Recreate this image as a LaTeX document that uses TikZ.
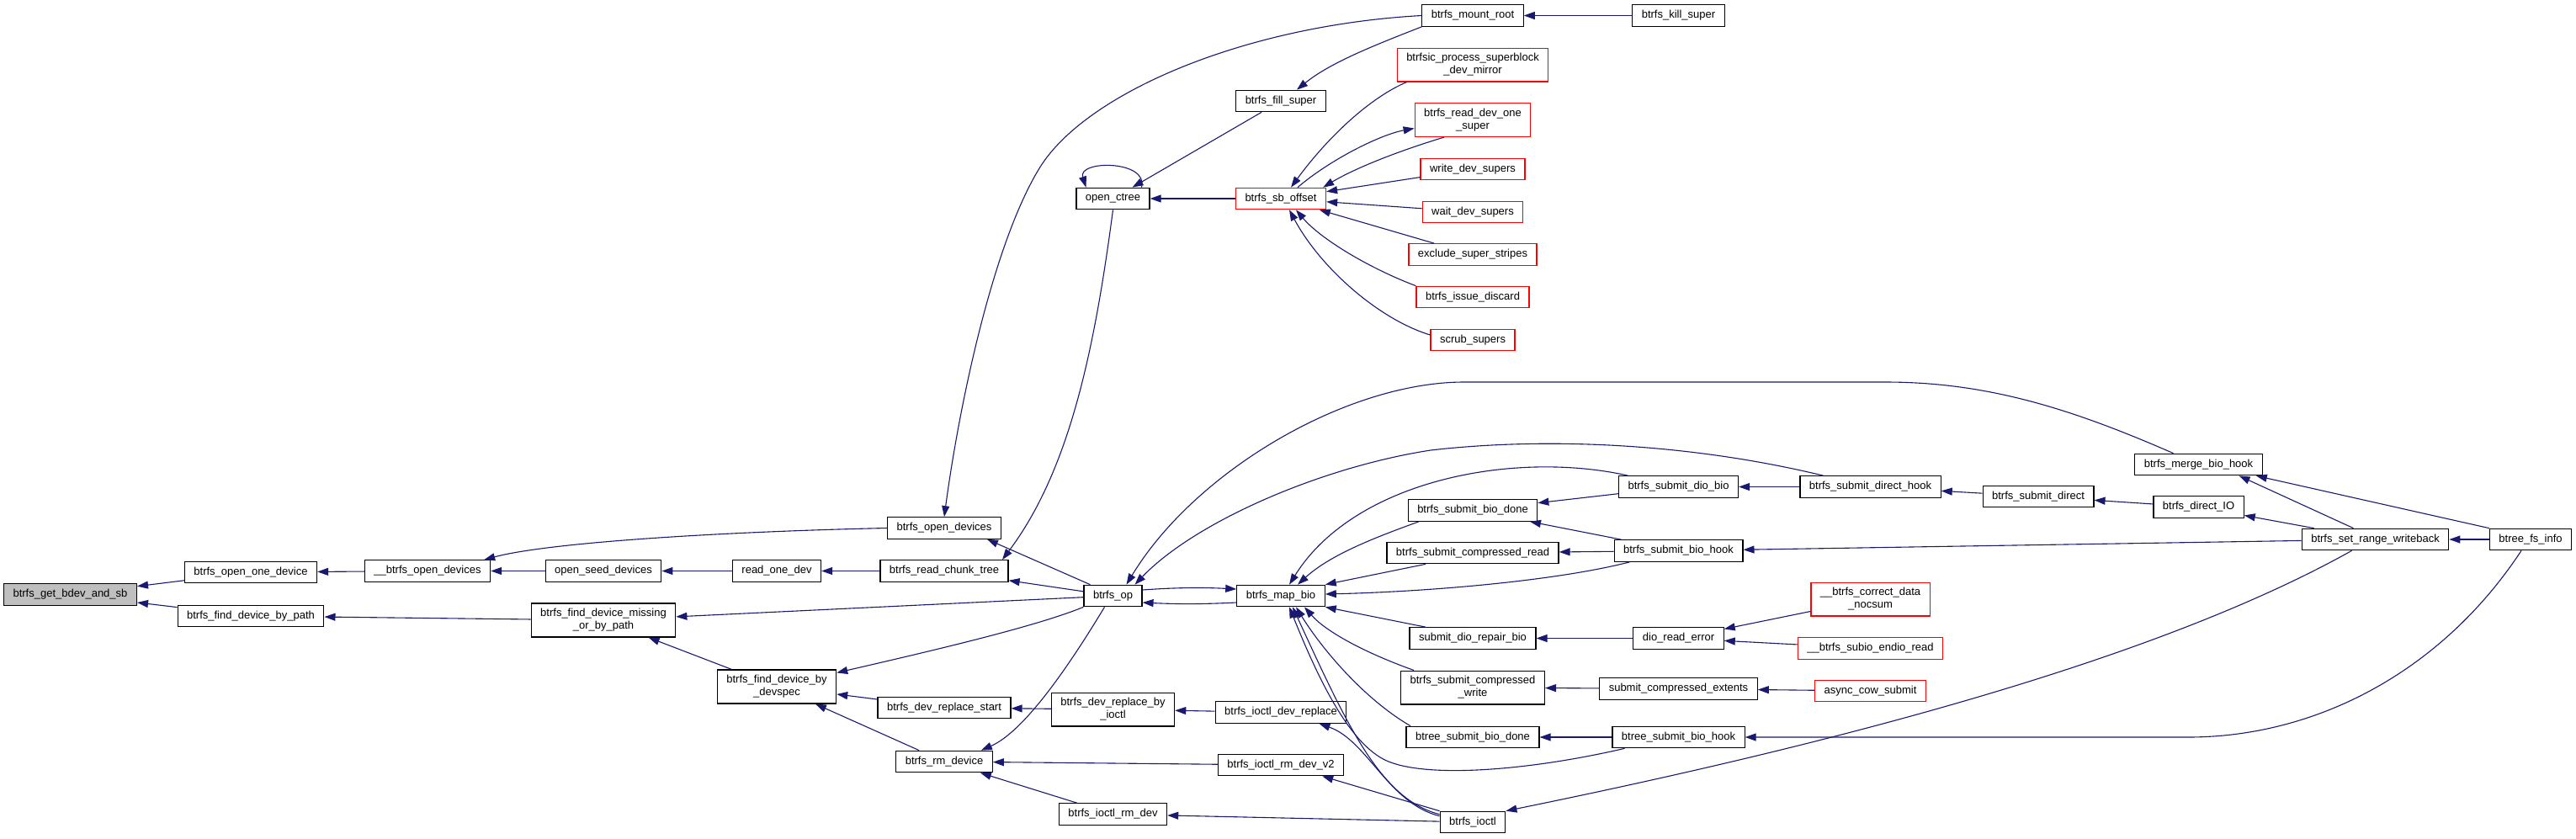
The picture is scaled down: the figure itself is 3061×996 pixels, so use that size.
\documentclass[tikz,border=0pt]{standalone}
\usepackage{fontspec}
\setmainfont{Liberation Sans}
\usepackage{tikz}
\usetikzlibrary{arrows.meta}
\definecolor{edgeblue}{RGB}{25,25,112}
\definecolor{linkred}{RGB}{255,0,0}
\definecolor{rootgray}{RGB}{191,191,191}

\begin{document}
\begin{tikzpicture}[x=0.5pt, y=-0.5pt,
  fn/.style={draw=black, fill=white, line width=0.6pt, inner xsep=5.5pt, inner ysep=3.2pt,
             minimum height=12.75pt, align=center, font=\fontsize{6.5pt}{7.5pt}\selectfont},
  fnred/.style={fn, draw=linkred},
  fnroot/.style={fn, fill=rootgray},
  call/.style={draw=edgeblue, line width=0.55pt, -{Triangle[length=6.5pt,width=4.5pt]}}]

%---------------------------------------
% Column positions (one per rank)
%---------------------------------------
\def\colA{83.5}   \def\colB{298}    \def\colC{508}    \def\colD{717}
\def\colE{923}    \def\colF{1122}   \def\colG{1322.5} \def\colH{1522}
\def\colI{1750}   \def\colJ{1994.5} \def\colK{2222.5} \def\colL{2422}
\def\colM{2612.5} \def\colN{2822.5} \def\colO{3007}

\useasboundingbox (0,0) rectangle (3061,996);

%====================================================
% Nodes
%====================================================
\node[fnroot] (getbdev)     at (\colA,706.5) {btrfs\_get\_bdev\_and\_sb};

\node[fn] (openone)         at (\colB,680)   {btrfs\_open\_one\_device};
\node[fn] (findpath)        at (\colB,732)   {btrfs\_find\_device\_by\_path};

\node[fn] (uopendev)        at (\colC,678.5) {\_\_btrfs\_open\_devices};

\node[fn] (openseed)        at (\colD,678.5) {open\_seed\_devices};
\node[fn] (findmissing)     at (\colD,737)   {btrfs\_find\_device\_missing\\\_or\_by\_path};

\node[fn] (readonedev)      at (\colE,678.5) {read\_one\_dev};
\node[fn] (devspec)         at (\colE,816)   {btrfs\_find\_device\_by\\\_devspec};

\node[fn] (opendevs)        at (\colF,627.5) {btrfs\_open\_devices};
\node[fn] (readchunk)       at (\colF,678.5) {btrfs\_read\_chunk\_tree};
\node[fn] (replstart)       at (\colF,841)   {btrfs\_dev\_replace\_start};
\node[fn] (rmdevice)        at (\colF,905)   {btrfs\_rm\_device};

\node[fn] (openctree)       at (\colG,236)   {open\_ctree};
\node[fn] (btrfsop)         at (\colG,708)   {btrfs\_op};
\node[fn] (replioctl)       at (\colG,843)   {btrfs\_dev\_replace\_by\\\_ioctl};
\node[fn] (ioctlrmdev)      at (\colG,967.5) {btrfs\_ioctl\_rm\_dev};

\node[fn] (fillsuper)       at (\colH,120)   {btrfs\_fill\_super};
\node[fnred] (sboffset)     at (\colH,236)   {btrfs\_sb\_offset};
\node[fn] (mapbio)          at (\colH,708)   {btrfs\_map\_bio};
\node[fn] (ioctldevrepl)    at (\colH,846.5) {btrfs\_ioctl\_dev\_replace};
\node[fn] (ioctlrmdevv2)    at (\colH,909)   {btrfs\_ioctl\_rm\_dev\_v2};

\node[fn] (mountroot)       at (\colI,18.5)  {btrfs\_mount\_root};
\node[fnred] (btrfsic)      at (\colI,77)    {btrfsic\_process\_superblock\\\_dev\_mirror};
\node[fnred] (readdevone)   at (\colI,142.5) {btrfs\_read\_dev\_one\\\_super};
\node[fnred] (writedev)     at (\colI,201)   {write\_dev\_supers};
\node[fnred] (waitdev)      at (\colI,252)   {wait\_dev\_supers};
\node[fnred] (exclude)      at (\colI,302.5) {exclude\_super\_stripes};
\node[fnred] (issuediscard) at (\colI,353)   {btrfs\_issue\_discard};
\node[fnred] (scrub)        at (\colI,404)   {scrub\_supers};
\node[fn] (submitbiodone)   at (\colI,606.5) {btrfs\_submit\_bio\_done};
\node[fn] (comprread)       at (\colI,657)   {btrfs\_submit\_compressed\_read};
\node[fn] (diorepair)       at (\colI,758.5) {submit\_dio\_repair\_bio};
\node[fn] (comprwrite)      at (\colI,817)   {btrfs\_submit\_compressed\\\_write};
\node[fn] (btreebiodone)    at (\colI,876)   {btree\_submit\_bio\_done};
\node[fn] (btrfsioctl)      at (\colI,977)   {btrfs\_ioctl};

\node[fn] (killsuper)       at (\colJ,18.5)  {btrfs\_kill\_super};
\node[fn] (diobio)          at (\colJ,578.5) {btrfs\_submit\_dio\_bio};
\node[fn] (submitbiohook)   at (\colJ,654.5) {btrfs\_submit\_bio\_hook};
\node[fn] (dioreaderr)      at (\colJ,758.5) {dio\_read\_error};
\node[fn] (comprext)        at (\colJ,818.5) {submit\_compressed\_extents};
\node[fn] (btreebiohook)    at (\colJ,876)   {btree\_submit\_bio\_hook};

\node[fn] (directhook)      at (\colK,578.5) {btrfs\_submit\_direct\_hook};
\node[fnred] (correctdata)  at (\colK,712)   {\_\_btrfs\_correct\_data\\\_nocsum};
\node[fnred] (subioendio)   at (\colK,770.5) {\_\_btrfs\_subio\_endio\_read};
\node[fnred] (asynccow)     at (\colK,821)   {async\_cow\_submit};

\node[fn] (submitdirect)    at (\colL,590)   {btrfs\_submit\_direct};
\node[fn] (mergebio)        at (\colM,552)   {btrfs\_merge\_bio\_hook};
\node[fn] (directio)        at (\colM,602.5) {btrfs\_direct\_IO};
\node[fn] (setrange)        at (\colN,641)   {btrfs\_set\_range\_writeback};
\node[fn] (btreefsinfo)     at (\colO,641)   {btree\_fs\_info};

%====================================================
% Calls (arrow at the callee)
%====================================================
% ---- left part ----
\draw[call] (openone) -- (getbdev);
\draw[call] (findpath) -- (getbdev);
\draw[call] (uopendev) -- (openone);
\draw[call] (openseed) -- (uopendev);
\draw[call] (opendevs.west) .. controls (850,632) and (650,645) .. ([xshift=-4pt]uopendev.north east);
\draw[call] (findmissing) -- (findpath);
\draw[call] (readonedev) -- (openseed);
\draw[call] (readchunk) -- (readonedev);
\draw[call] (devspec) -- (findmissing);

% ---- super block ----
\draw[call] (mountroot.west) .. controls (1480,30) and (1290,110) .. (1235,200)
            .. controls (1180,290) and (1140,480) .. (opendevs.north);
\draw[call] (mountroot.south west) .. controls (1630,55) and (1580,75) .. ([xshift=9.5pt]fillsuper.north);
\draw[call] (killsuper) -- (mountroot);
\draw[call] (fillsuper) -- (openctree);
\draw[call] ([xshift=17pt]openctree.north) .. controls (1365,190) and (1280,190) .. ([xshift=-16pt]openctree.north);
\draw[call] (sboffset) -- (openctree);
\draw[call] ([xshift=6pt]btrfsic.south west) .. controls (1630,115) and (1580,160) .. ([xshift=6pt]sboffset.north);
\draw[call] ([xshift=10pt]sboffset.north) .. controls (1580,190) and (1640,160) .. ([yshift=-5pt]readdevone.west);
\draw[call] ([xshift=-17pt]readdevone.south) .. controls (1660,180) and (1610,200) .. ([xshift=-2pt]sboffset.north east);
\draw[call] (writedev) -- (sboffset);
\draw[call] (waitdev) -- (sboffset);
\draw[call] (exclude) -- (sboffset);
\draw[call] (issuediscard.north west) .. controls (1630,320) and (1570,285) .. ([xshift=9pt]sboffset.south);
\draw[call] ([yshift=3pt]scrub.west) .. controls (1640,380) and (1570,320) .. ([xshift=5pt]sboffset.south);
\draw[call] (openctree.south) .. controls (1300,420) and (1270,560) .. ([xshift=34.5pt]readchunk.north);

% ---- btrfs_op ----
\draw[call] ([xshift=4pt]btrfsop.north west) -- ([xshift=-8.5pt]opendevs.south east);
\draw[call] (btrfsop) -- (readchunk);
\draw[call] (btrfsop) -- (findmissing);
\draw[call] (btrfsop.south west) .. controls (1230,745) and (1100,775) .. ([yshift=-2pt]devspec.north east);
\draw[call] ([xshift=-5pt]btrfsop.south) .. controls (1265,800) and (1215,870) .. ([xshift=-7pt]rmdevice.north east);
\draw[call] ([yshift=3.5pt]btrfsop.east) .. controls (1400,698) and (1430,698) .. ([yshift=4pt]mapbio.west);
\draw[call] ([yshift=-4pt]mapbio.west) .. controls (1430,718) and (1400,718) .. ([yshift=-4pt]btrfsop.east);

% ---- device replace / remove ----
\draw[call] (replstart) -- (devspec);
\draw[call] (rmdevice) -- (devspec);
\draw[call] (replioctl) -- (replstart);
\draw[call] (ioctldevrepl) -- (replioctl);
\draw[call] (ioctlrmdevv2) -- (rmdevice);
\draw[call] (ioctlrmdev) -- (rmdevice);
\draw[call] ([yshift=-3pt]btrfsioctl.north west) .. controls (1650,955) and (1625,880) .. ([xshift=-16.5pt]ioctldevrepl.south east);
\draw[call] (btrfsioctl.north west) -- ([xshift=-13pt]ioctlrmdevv2.south east);
\draw[call] (btrfsioctl) -- (ioctlrmdev);

% ---- callers of btrfs_map_bio ----
\draw[call] ([yshift=-2pt]btrfsioctl.north west) .. controls (1640,950) and (1600,860) .. ([xshift=7pt]mapbio.south);
\draw[call] ([xshift=-32pt]submitbiodone.south) .. controls (1630,640) and (1580,660) .. ([xshift=10pt]mapbio.north);
\draw[call] ([xshift=-30pt]diobio.north) .. controls (1800,535) and (1610,570) .. ([xshift=5pt]mapbio.north);
\draw[call] ([xshift=-28pt]comprread.south) -- (mapbio.north east);
\draw[call] ([xshift=-29pt]submitbiohook.south) .. controls (1850,690) and (1700,703) .. ([yshift=1pt]mapbio.east);
\draw[call] ([xshift=-28pt]diorepair.north) -- (mapbio.south east);
\draw[call] ([xshift=-35pt]comprwrite.north) .. controls (1620,775) and (1575,750) .. ([xshift=14pt]mapbio.south);
\draw[call] ([xshift=-37pt]btreebiodone.north) .. controls (1620,830) and (1570,770) .. ([xshift=9pt]mapbio.south);
\draw[call] ([xshift=-32pt]btreebiohook.south) .. controls (1820,915) and (1700,925) .. (1650,905)
            .. controls (1600,885) and (1560,790) .. ([xshift=5pt]mapbio.south);

% ---- long calls back to btrfs_op ----
\draw[call] ([xshift=-15pt]mergebio.north) .. controls (2460,485) and (2360,454) .. (2240,454) -- (1740,454)
            .. controls (1600,454) and (1420,560) .. ([xshift=8pt]btrfsop.north);
\draw[call] ([xshift=-28pt]directhook.north) .. controls (2000,525) and (1830,520) .. (1700,535)
            .. controls (1570,555) and (1420,620) .. ([xshift=13pt]btrfsop.north);

% ---- right part ----
\draw[call] (directhook) -- (diobio);
\draw[call] (diobio) -- (submitbiodone);
\draw[call] (submitbiohook) -- (submitbiodone);
\draw[call] (submitbiohook) -- (comprread);
\draw[call] (submitdirect) -- (directhook);
\draw[call] (directio) -- (submitdirect);
\draw[call] (setrange) -- (directio);
\draw[call] ([xshift=-13pt]setrange.north) -- ([xshift=24pt]mergebio.south);
\draw[call] (btreefsinfo.north west) -- ([xshift=-4pt]mergebio.south east);
\draw[call] (btreefsinfo) -- (setrange);
\draw[call] (setrange) -- (submitbiohook);
\draw[call] ([xshift=-14pt]setrange.south) .. controls (2570,780) and (2200,880) .. (btrfsioctl.north east);
\draw[call] ([xshift=-5.5pt]btreefsinfo.south) .. controls (2900,800) and (2750,876) .. (2600,876) -- (btreebiohook.east);
\draw[call] (dioreaderr) -- (diorepair);
\draw[call] (correctdata) -- (dioreaderr);
\draw[call] (subioendio) -- (dioreaderr);
\draw[call] (comprext) -- (comprwrite);
\draw[call] (asynccow) -- (comprext);
\draw[call] (btreebiohook) -- (btreebiodone);

\end{tikzpicture}
\end{document}
